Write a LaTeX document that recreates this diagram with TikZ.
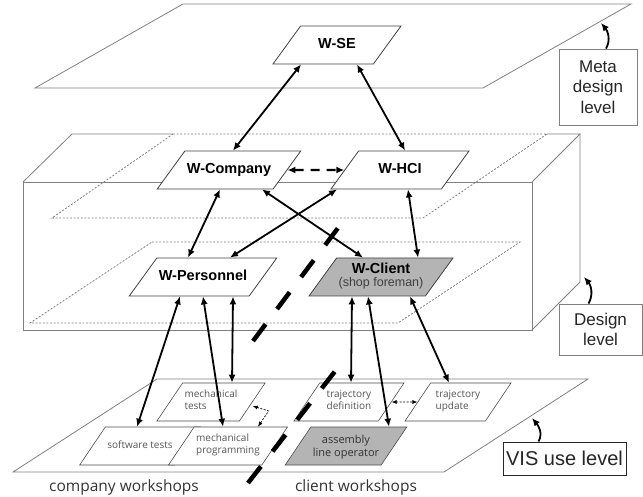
\documentclass[tikz,border=0pt]{standalone}
\usepackage{fontspec}
\setmainfont{Liberation Sans}
\newfontfamily\opensans{Open Sans}
\usetikzlibrary{shapes.geometric,arrows.meta}

\definecolor{planegray}{HTML}{808080}
\definecolor{textgray}{HTML}{555555}
\definecolor{fillgray}{HTML}{B4B4B4}

\begin{document}
\begin{tikzpicture}[x=1pt, y=-1pt, >={Latex[length=8pt,width=7pt]},
    wnode/.style={trapezium, trapezium left angle=54, trapezium right angle=126,
      trapezium stretches body, draw=black!75, line width=0.8pt, fill=white,
      inner xsep=2pt, inner ysep=12.5pt, text height=10pt, text depth=3pt,
      align=center, font=\fontsize{14.5}{16}\selectfont\bfseries},
    subnode/.style={trapezium, trapezium left angle=56, trapezium right angle=124,
      trapezium stretches body, draw=black!70, line width=0.6pt, fill=white,
      inner xsep=2pt, inner ysep=10pt, text height=16.5pt, text depth=1.5pt,
      text=textgray, align=left, font=\opensans\fontsize{10}{12.5}\selectfont},
    plane/.style={draw=planegray, line width=0.8pt},
    dotplane/.style={draw=planegray, line width=0.8pt, dash pattern=on 2pt off 1.6pt},
    lvlbox/.style={draw=planegray, line width=0.8pt, fill=white, align=center,
      inner sep=0pt, text=black!85, font=\fontsize{17}{20.5}\selectfont},
    link/.style={<->, line width=1.8pt},
    sepline/.style={line width=4.5pt, dash pattern=on 21pt off 19pt},
    smalllink/.style={{Latex[length=5pt,width=4pt]}-{Latex[length=5pt,width=4pt]},
      line width=0.7pt, dash pattern=on 2pt off 1.5pt}]

    % --- 0. 描画範囲 ---
    \useasboundingbox (0,0) rectangle (643,497);

    % --- 1. メタ設計レベルの平面 ---
    \draw[plane] (183,4) -- (631,4) -- (483,88) -- (35,88) -- cycle;

    % --- 2. 設計レベルの箱 (前面・上面・側面) ---
    \draw[plane] (23,182) rectangle (532,330);
    \draw[plane] (23,182) -- (72,134) -- (173,134);
    \draw[plane] (547,134) -- (580,134) -- (532,182);
    \draw[plane] (580,134) -- (580,282) -- (532,330);
    % 箱の中の点線の平面
    \draw[dotplane] (173,134) -- (547,134) -- (423,218) -- (52,218) -- cycle;
    \draw[dotplane] (152,242) -- (520,242) -- (398,323) -- (30,323) -- cycle;

    % --- 3. VIS 使用レベルの平面 ---
    \draw[plane] (157,379) -- (588,379) -- (444,472) -- (13,472) -- cycle;

    % --- 4. ワークショップのノード ---
    \node[wnode, minimum width=128pt] (wse) at (337,45) {W-SE};
    \node[wnode, minimum width=140pt] (wcomp) at (229,170) {W-Company};
    \node[wnode, minimum width=138pt] (whci) at (400,170) {W-HCI};
    \node[wnode, minimum width=138pt] (wper) at (203,277) {W-Personnel};
    \node[wnode, minimum width=133pt, fill=fillgray, inner ysep=8pt,
      text height=21pt, text depth=1pt] (wcl) at (381,277)
      {W-Client\\[-3pt]{\mdseries\fontsize{12.5}{13}\selectfont\color{black!75}(shop foreman)}};

    % 使用レベルの小さなノード
    \node[subnode, minimum width=104pt] (mtest) at (211,402) {mechanical\\tests};
    \node[subnode, minimum width=104pt, align=center, inner ysep=14pt,
      text height=7.5pt, text depth=2.5pt] (swtest) at (140,446) {software tests};
    \node[subnode, minimum width=104pt] (mprog) at (228,446) {mechanical\\programming};
    \node[subnode, minimum width=110pt] (tdef) at (349,402) {trajectory\\definition};
    \node[subnode, minimum width=108pt, fill=fillgray, align=center, text=black!80,
      inner ysep=8pt, text height=21pt, text depth=1pt,
      font=\opensans\fontsize{11}{13}\selectfont] (asm) at (346,446) {assembly\\line operator};
    \node[subnode, minimum width=106pt] (tupd) at (458,402) {trajectory\\update};

    % --- 5. ノード間の双方向矢印 ---
    \draw[link] ([xshift=-36pt]wse.south) -- ([xshift=4pt]wcomp.north);
    \draw[link] ([xshift=20pt]wse.south) -- ([xshift=5pt]whci.north);
    \draw[<->, line width=2.4pt, dash pattern=on 9pt off 7pt] (wcomp.east) -- (whci.west);

    \draw[link] ([xshift=-9pt]wcomp.south) -- ([xshift=-15pt]wper.north);
    \draw[link] ([xshift=33pt]wcomp.south) -- ([xshift=-18pt]wcl.north);
    \draw[link] ([xshift=-63pt]whci.south) -- ([xshift=27pt]wper.north);
    \draw[link] ([xshift=8pt]whci.south) -- ([xshift=37pt]wcl.north);

    \draw[link] ([xshift=-23pt]wper.south) -- ([xshift=-3pt]swtest.north);
    \draw[link] ([xshift=0pt]wper.south) -- ([xshift=-5pt]mprog.north);
    \draw[link] ([xshift=30pt]wper.south) -- ([xshift=21pt]mtest.north);

    \draw[link] ([xshift=-29pt]wcl.south) -- ([xshift=2pt]tdef.north);
    \draw[link] ([xshift=-13pt]wcl.south) -- ([xshift=43pt]asm.north);
    \draw[link] ([xshift=29pt]wcl.south) -- ([xshift=-9pt]tupd.north);

    % 点線の小さな矢印
    \draw[smalllink] ([yshift=-4pt]mtest.east) -- ++(16,5) -- ([xshift=30pt]mprog.north);
    \draw[smalllink] (tdef.east) -- (tupd.west);

    % --- 6. 会社側と顧客側の境界 (太い破線) ---
    \coordinate (sepDa) at (253,341);
    \coordinate (sepDb) at (338,228);
    \coordinate (sepUa) at (248,483);
    \coordinate (sepUb) at (336,370);
    \draw[sepline] (sepDa) -- (sepDb);
    \draw[sepline] (sepUa) -- (sepUb);

    % --- 7. レベル名のラベルと曲がった矢印 ---
    \node[lvlbox, minimum width=78pt, minimum height=76pt] (meta) at (598,87)
      {Meta\\design\\level};
    \node[lvlbox, minimum width=83pt, minimum height=51pt] (design) at (600.5,329.5)
      {Design\\level};
    \node[lvlbox, draw=black!85, line width=1pt, minimum width=123pt, minimum height=33pt,
      font=\fontsize{20}{22}\selectfont] (visuse) at (564.5,458.5) {VIS use level};

    \coordinate (metatip) at (601,23);
    \coordinate (designtip) at (584,277);
    \coordinate (visusetip) at (532,418);
    \draw[->, line width=1.8pt] ([xshift=8pt]meta.north) to[out=60, in=-50] (metatip);
    \draw[->, line width=1.8pt] ([xshift=-12pt]design.north) to[out=60, in=-50] (designtip);
    \draw[->, line width=1.8pt] ([xshift=-26pt]visuse.north) to[out=60, in=-50] (visusetip);

    % --- 8. ワークショップ名 ---
    \node[text=black!80, font=\opensans\fontsize{15.5}{17}\selectfont] (compws) at (124,487)
      {company workshops};
    \node[text=black!80, font=\opensans\fontsize{15.5}{17}\selectfont] (clientws) at (356,487)
      {client workshops};

\end{tikzpicture}
\end{document}
